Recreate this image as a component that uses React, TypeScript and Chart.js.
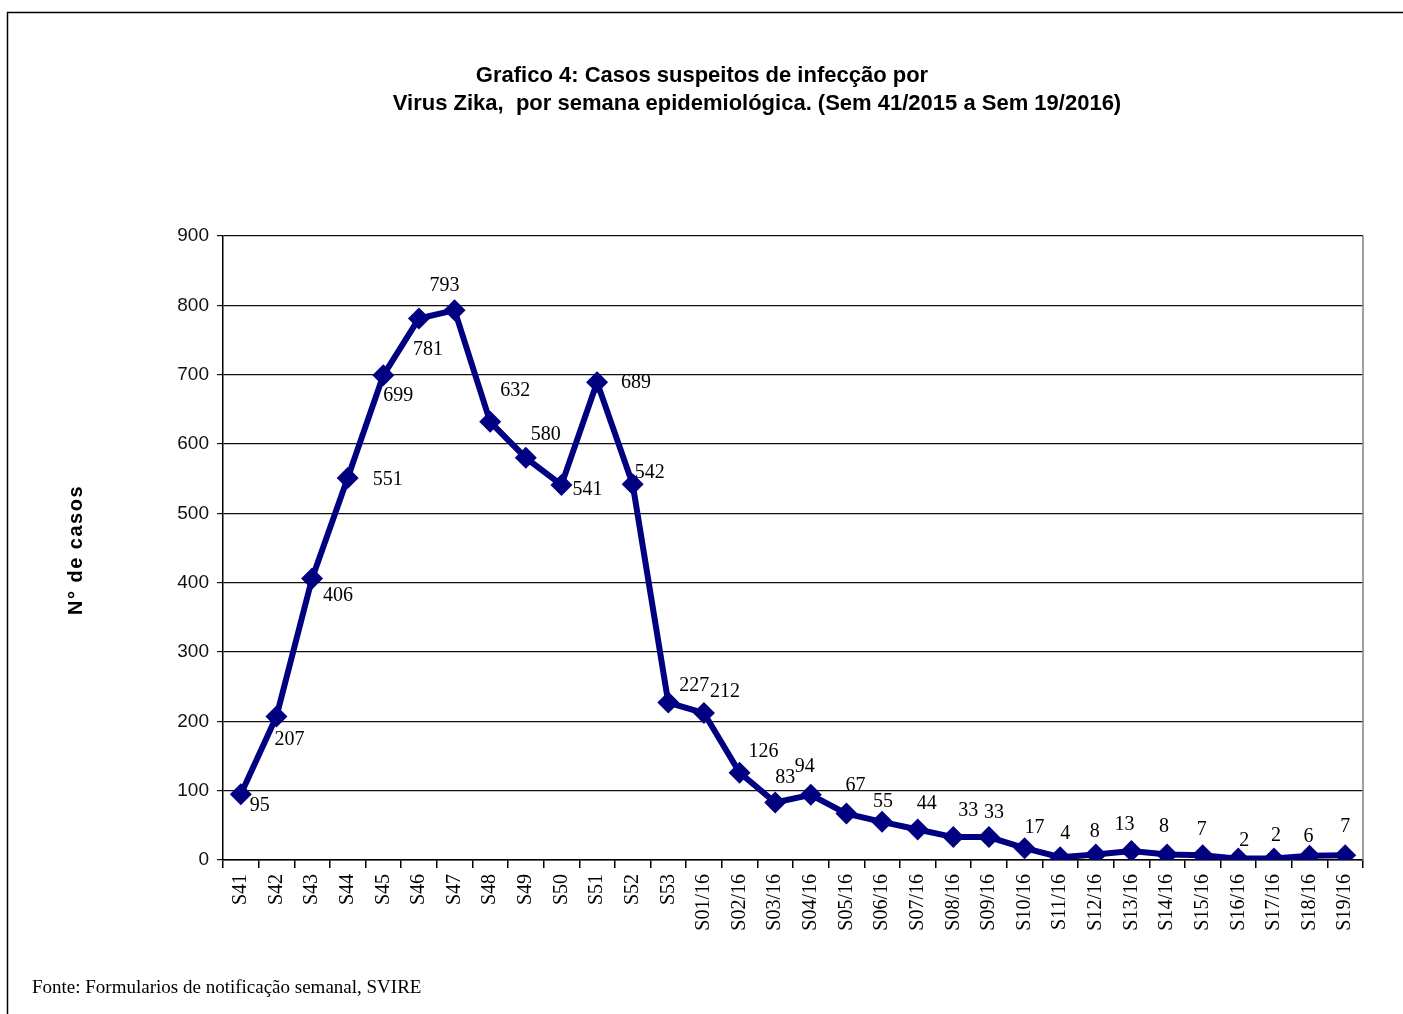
import React, { useEffect, useRef } from "react";
import { Chart, registerables } from "chart.js";

Chart.register(...registerables);

const weeks: string[] = [
  "S41", "S42", "S43", "S44", "S45", "S46", "S47", "S48", "S49", "S50", "S51", "S52", "S53",
  "S01/16", "S02/16", "S03/16", "S04/16", "S05/16", "S06/16", "S07/16", "S08/16", "S09/16",
  "S10/16", "S11/16", "S12/16", "S13/16", "S14/16", "S15/16", "S16/16", "S17/16", "S18/16", "S19/16",
];

const cases: number[] = [
  95, 207, 406, 551, 699, 781, 793, 632, 580, 541, 689, 542, 227,
  212, 126, 83, 94, 67, 55, 44, 33, 33,
  17, 4, 8, 13, 8, 7, 2, 2, 6, 7,
];

const yTicks: number[] = [0, 100, 200, 300, 400, 500, 600, 700, 800, 900];

const titleLines: string[] = [
  "Grafico 4: Casos suspeitos de infecção por",
  "Virus Zika,  por semana epidemiológica. (Sem 41/2015 a Sem 19/2016)",
];
const yTitle = "N° de casos";
const footer = "Fonte: Formularios de notificação semanal, SVIRE";

// label placement (style): offset of label centre from point centre
const labelDx: number[] = [19, 13, 26, 40, 15, 9, -10, 25, 20, 26, 39, 17, 26, 21, 24, 10, -6, 9, 1, 9, 15, 5, 10, 5, -1, -7, -3, -1, 6, 2, -1, 0];
const labelDy: number[] = [12, 23, 17, 2, 20, 31, -24, -31, -23, 5, 0, -11, -17, -21, -21, -25, -28, -28, -20, -26, -26, -24, -20, -23, -23, -26, -28, -25, -18, -23, -19, -28];

const SERIF = "'Liberation Serif', 'Times New Roman', serif";
const SANS = "'Liberation Sans', Arial, sans-serif";
const NARROW = "'Liberation Sans Narrow', 'Arial Narrow', 'Liberation Sans', Arial, sans-serif";

export default function App() {
  const ref = useRef<HTMLCanvasElement | null>(null);

  useEffect(() => {
    if (!ref.current) return;

    const decor = {
      id: "decor",
      beforeDraw(chart: any) {
        const ctx = chart.ctx;
        ctx.save();
        ctx.fillStyle = "#fff";
        ctx.fillRect(0, 0, chart.width, chart.height);
        ctx.strokeStyle = "#000";
        ctx.lineWidth = 1.5;
        ctx.strokeRect(7.5, 12.5, 1600, 1200);
        ctx.restore();
      },
      afterDraw(chart: any) {
        const ctx = chart.ctx;
        const a = chart.chartArea;
        ctx.save();
        // right border of plot area
        ctx.strokeStyle = "#808080";
        ctx.lineWidth = 1.5;
        ctx.beginPath();
        ctx.moveTo(a.right, a.top);
        ctx.lineTo(a.right, a.bottom);
        ctx.stroke();
        // title
        ctx.fillStyle = "#000";
        ctx.font = `bold 22px ${NARROW}`;
        ctx.textAlign = "center";
        ctx.textBaseline = "middle";
        ctx.fillText(titleLines[0], 702, 76);
        ctx.fillText(titleLines[1], 757, 104);
        // y title
        ctx.save();
        ctx.translate(76, 550);
        ctx.rotate(-Math.PI / 2);
        ctx.font = `bold 20px ${SANS}`;
        try {
          (ctx as any).letterSpacing = "1.5px";
        } catch (e) {}
        ctx.fillText(yTitle, 0, 0);
        ctx.restore();
        // footer
        ctx.font = `19px ${SERIF}`;
        ctx.textAlign = "left";
        ctx.fillText(footer, 32, 988);
        ctx.restore();
      },
      afterDatasetsDraw(chart: any) {
        const ctx = chart.ctx;
        const meta = chart.getDatasetMeta(0);
        ctx.save();
        ctx.fillStyle = "#000";
        ctx.font = `20px ${SERIF}`;
        ctx.textAlign = "center";
        ctx.textBaseline = "middle";
        meta.data.forEach((pt: any, i: number) => {
          ctx.fillText(String(cases[i]), pt.x + labelDx[i], pt.y + labelDy[i]);
        });
        ctx.restore();
      },
    };

    const chart = new Chart(ref.current, {
      type: "line",
      data: {
        labels: weeks,
        datasets: [
          {
            data: cases,
            borderColor: "#000080",
            backgroundColor: "#000080",
            borderWidth: 6,
            pointStyle: "rectRot",
            pointRadius: 11,
            pointBackgroundColor: "#000080",
            pointBorderColor: "#000080",
            pointBorderWidth: 0,
            tension: 0,
            fill: false,
          },
        ],
      },
      options: {
        animation: false,
        responsive: false,
        maintainAspectRatio: false,
        devicePixelRatio: 1,
        layout: { padding: { top: 236, left: 0, right: 40, bottom: 0 } },
        plugins: {
          legend: { display: false },
          tooltip: { enabled: false },
          title: { display: false },
        },
        scales: {
          x: {
            type: "category",
            offset: true,
            grid: {
              offset: true,
              drawOnChartArea: false,
              drawTicks: true,
              tickLength: 8,
              color: "#000",
              lineWidth: 1.5,
            },
            border: { display: true, color: "#000", width: 1.5 },
            ticks: {
              autoSkip: false,
              minRotation: 90,
              maxRotation: 90,
              padding: 6,
              color: "#000",
              font: { family: SERIF, size: 20 },
            },
            afterFit(scale: any) {
              scale.height = 154;
            },
          },
          y: {
            min: 0,
            max: 900,
            afterBuildTicks(scale: any) {
              scale.ticks = yTicks.map((v) => ({ value: v }));
            },
            grid: {
              color: "#111",
              lineWidth: 1.2,
              drawTicks: true,
              tickLength: 6,
            },
            border: { display: true, color: "#000", width: 1.5 },
            ticks: {
              padding: 8,
              color: "#111",
              font: { family: SANS, size: 19 },
            },
            afterFit(scale: any) {
              scale.width = 223;
            },
          },
        },
      },
      plugins: [decor],
    } as any);

    return () => chart.destroy();
  }, []);

  return (
    <div style={{ position: "absolute", left: 0, top: 0, width: 1403, height: 1014 }}>
      <canvas ref={ref} width={1403} height={1014} style={{ width: 1403, height: 1014, display: "block" }} />
    </div>
  );
}
